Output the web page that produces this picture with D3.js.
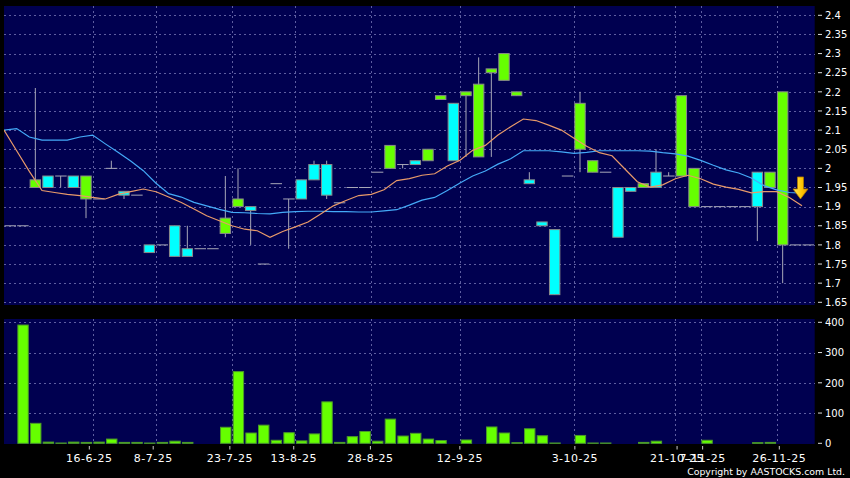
<!DOCTYPE html>
<html><head><meta charset="utf-8">
<script src="https://cdn.jsdelivr.net/npm/d3@7"></script>
<style>body{margin:0;background:#000;}svg{display:block;}</style>
</head><body>
<svg id="c" width="850" height="478"></svg>
<script>
// ---------- DATA ----------
const opens  = [1.85,1.85,1.97,1.95,1.98,1.95,1.98,1.92,2.00,1.93,1.93,1.78,1.80,1.77,1.77,1.79,1.79,1.87,1.92,1.89,1.75,1.96,1.92,1.92,1.97,1.93,1.91,1.95,1.95,1.99,2.06,2.01,2.01,2.05,2.19,2.02,2.20,2.22,2.26,2.30,2.20,1.96,1.85,1.67,1.98,2.17,2.02,1.99,1.82,1.94,1.96,1.95,1.98,2.19,2.00,1.90,1.90,1.90,1.90,1.90,1.99,2.20,1.80,1.80];
const closes = [1.85,1.85,1.95,1.98,1.98,1.98,1.92,1.92,2.00,1.94,1.93,1.80,1.80,1.85,1.79,1.79,1.79,1.83,1.90,1.90,1.75,1.96,1.92,1.97,2.01,2.01,1.91,1.95,1.95,1.99,2.00,2.01,2.02,2.02,2.18,2.17,2.19,2.03,2.25,2.23,2.19,1.97,1.86,1.84,1.98,2.05,1.99,1.99,1.95,1.95,1.95,1.99,1.98,1.98,1.90,1.90,1.90,1.90,1.90,1.99,1.95,1.80,1.80,1.80];
const highs  = [1.85,1.85,2.21,1.98,1.98,1.98,1.98,1.92,2.02,1.94,1.93,1.80,1.80,1.85,1.85,1.79,1.79,1.98,2.00,1.90,1.75,1.96,1.92,1.97,2.02,2.02,1.91,1.95,1.95,1.99,2.06,2.01,2.02,2.05,2.19,2.17,2.20,2.29,2.26,2.30,2.20,1.99,1.86,1.84,1.98,2.20,2.02,1.99,1.95,1.95,1.96,2.05,1.99,2.19,2.00,1.90,1.90,1.90,1.90,1.99,1.99,2.20,1.80,1.80];
const lows   = [1.85,1.85,1.95,1.95,1.95,1.95,1.87,1.92,2.00,1.92,1.93,1.78,1.80,1.77,1.77,1.79,1.79,1.82,1.90,1.80,1.75,1.96,1.79,1.92,1.97,1.92,1.91,1.95,1.95,1.99,2.00,2.00,2.01,2.02,2.18,2.02,2.03,2.03,2.03,2.23,2.19,1.96,1.85,1.67,1.98,1.99,1.99,1.99,1.82,1.94,1.95,1.95,1.98,1.98,1.90,1.90,1.90,1.90,1.90,1.81,1.95,1.70,1.80,1.80];
const volumes = [0,391,66,4,1,4,3,4,14,3,3,1,3,7,3,0,0,53,237,34,60,10,35,8,31,137,3,22,39,7,80,24,33,14,9,0,11,0,54,34,2,48,25,1,0,26,1,1,0,0,3,7,0,0,0,10,0,0,0,2,3,0,0,0];
const maBlue = [2.100,2.104,2.082,2.074,2.074,2.074,2.082,2.087,2.064,2.042,2.019,1.994,1.961,1.934,1.925,1.911,1.902,1.893,1.885,1.884,1.882,1.881,1.885,1.887,1.888,1.888,1.887,1.887,1.886,1.886,1.889,1.892,1.904,1.917,1.924,1.942,1.962,1.980,1.993,2.011,2.025,2.046,2.046,2.046,2.043,2.039,2.042,2.046,2.046,2.046,2.046,2.045,2.041,2.038,2.032,2.021,2.008,1.996,1.988,1.975,1.955,1.944,1.937,1.935];
const maOrange = [2.100,2.046,1.992,1.942,1.937,1.932,1.929,1.924,1.920,1.932,1.939,1.946,1.939,1.925,1.911,1.894,1.876,1.863,1.850,1.841,1.837,1.820,1.835,1.847,1.860,1.881,1.902,1.916,1.929,1.932,1.944,1.968,1.973,1.982,1.986,2.006,2.021,2.047,2.060,2.087,2.109,2.129,2.125,2.113,2.100,2.079,2.058,2.041,2.033,1.999,1.965,1.951,1.957,1.973,1.982,1.973,1.959,1.951,1.945,1.936,1.939,1.939,1.924,1.902];
const dateSlots  = [7,12,18,23,29,36,45,53,55,61];
const dateLabels = ["16-6-25","8-7-25","23-7-25","13-8-25","28-8-25","12-9-25","3-10-25","21-10-25","7-11-25","26-11-25"];
const priceTicks = [2.4,2.35,2.3,2.25,2.2,2.15,2.1,2.05,2,1.95,1.9,1.85,1.8,1.75,1.7,1.65];
const volTicks = [400,300,200,100,0];
const signalSlot = 63, signalPrice = 1.92;

// ---------- LAYOUT ----------
const N = opens.length;
const W = 850, H = 478;
const PL = 4, PR = 814.67, PT = 6, PB = 305, VT = 319, VB = 444;
const bg = "#000050", grid = "#5e5ea0";
const green = "#66ff00", cyan = "#00ffff";
const font = "DejaVu Sans, Verdana, sans-serif";

const x  = d3.scaleLinear().domain([0, N]).range([PL, PR]);
const xt = d3.scaleLinear().domain([7, 61]).range([89.3, 779.3]);
const y  = d3.scaleLinear().domain([1.65, 2.4]).range([302.3, 15.3]);
const yv = d3.scaleLinear().domain([0, 400]).range([443.3, 322.3]);

const svg = d3.select("#c");
svg.append("rect").attr("width", W).attr("height", H).attr("fill", "#000");
const defs = svg.append("defs");
defs.append("clipPath").attr("id","cp").append("rect").attr("x",PL).attr("y",PT).attr("width",PR-PL).attr("height",PB-PT);
defs.append("clipPath").attr("id","cv").append("rect").attr("x",PL).attr("y",VT).attr("width",PR-PL).attr("height",VB-VT);
const gr = defs.append("linearGradient").attr("id","ag").attr("x1",0).attr("x2",1).attr("y1",0).attr("y2",0);
gr.append("stop").attr("offset","0%").attr("stop-color","#ffe860");
gr.append("stop").attr("offset","60%").attr("stop-color","#ffc400");
gr.append("stop").attr("offset","100%").attr("stop-color","#e89a00");

svg.append("rect").attr("x",PL).attr("y",PT).attr("width",PR-PL).attr("height",PB-PT).attr("fill",bg);
svg.append("rect").attr("x",PL).attr("y",VT).attr("width",PR-PL).attr("height",VB-VT).attr("fill",bg);

// grid
const gg = svg.append("g").attr("stroke", grid).attr("stroke-width",1).attr("stroke-dasharray","2,3").attr("shape-rendering","crispEdges");
priceTicks.forEach(v => gg.append("line").attr("x1",PL).attr("x2",PR).attr("y1",Math.round(y(v))+0.5).attr("y2",Math.round(y(v))+0.5));
volTicks.filter(v=>v>0).forEach(v => gg.append("line").attr("x1",PL).attr("x2",PR).attr("y1",Math.round(yv(v))+0.5).attr("y2",Math.round(yv(v))+0.5));
dateSlots.forEach(k => {
  const xx = Math.round(x(k))+0.5;
  gg.append("line").attr("x1",xx).attr("x2",xx).attr("y1",PT).attr("y2",PB);
  gg.append("line").attr("x1",xx).attr("x2",xx).attr("y1",VT).attr("y2",VB);
});

// candles
const cg = svg.append("g").attr("clip-path","url(#cp)");
for (let i = 0; i < N; i++) {
  const o = opens[i], c = closes[i], h = highs[i], l = lows[i];
  const left = x(i);
  if (h > l) {
    cg.append("line").attr("x1",left+6).attr("x2",left+6).attr("y1",y(h)).attr("y2",y(l))
      .attr("stroke","#a8a8b8").attr("stroke-width",1);
  }
  if (o === c) {
    cg.append("line").attr("x1",left+0.5).attr("x2",left+12).attr("y1",y(o)).attr("y2",y(o))
      .attr("stroke","#a8a8b8").attr("stroke-width",1);
  } else {
    const top = y(Math.max(o,c)), bot = y(Math.min(o,c));
    cg.append("rect").attr("x",left+0.8).attr("y",top).attr("width",10.4).attr("height",bot-top)
      .attr("fill", c < o ? green : cyan).attr("stroke","#8a8a8a").attr("stroke-width",1);
  }
}

// moving averages
const line = d3.line().x((d,k)=>x(k)).y(d=>y(d));
cg.append("path").datum(maBlue).attr("d",line).attr("fill","none").attr("stroke","#44aaf8").attr("stroke-width",1.2);
cg.append("path").datum(maOrange).attr("d",line).attr("fill","none").attr("stroke","#e89a6a").attr("stroke-width",1.2);

// signal arrow
const ax = x(signalSlot) - 1.5, ay = y(signalPrice);
svg.append("path")
  .attr("d", `M${ax-3},${ay-22} L${ax+3},${ay-22} L${ax+3},${ay-10} L${ax+7.5},${ay-10} L${ax},${ay} L${ax-7.5},${ay-10} L${ax-3},${ay-10} Z`)
  .attr("fill","url(#ag)").attr("stroke","#b07800").attr("stroke-width",0.8);

// volume
const vg = svg.append("g").attr("clip-path","url(#cv)");
volumes.forEach((v,i) => {
  if (v <= 0) return;
  vg.append("rect").attr("x",x(i)+1.2).attr("y",yv(v)).attr("width",10.4).attr("height",yv(0)-yv(v))
    .attr("fill",green).attr("stroke","#4c9a28").attr("stroke-width",1);
});

// right axes
const ag = svg.append("g").attr("font-family",font).attr("font-size","10px").attr("fill","#fff");
priceTicks.forEach(v => {
  ag.append("line").attr("x1",818).attr("x2",822).attr("y1",y(v)).attr("y2",y(v)).attr("stroke","#ddd");
  ag.append("text").attr("x",825).attr("y",y(v)+3.7).text(String(v));
});
volTicks.forEach(v => {
  ag.append("line").attr("x1",818).attr("x2",822).attr("y1",yv(v)).attr("y2",yv(v)).attr("stroke","#ddd");
  ag.append("text").attr("x",825).attr("y",yv(v)+3.7).text(String(v));
});

// date axis
const dg = svg.append("g").attr("font-family",font).attr("font-size","11px").attr("fill","#fff").attr("letter-spacing","0.5px");
dateSlots.forEach((k,j) => {
  const xx = xt(k);
  dg.append("line").attr("x1",xx).attr("x2",xx).attr("y1",446).attr("y2",449.5).attr("stroke","#ccc");
  dg.append("text").attr("x",xx).attr("y",461.5).attr("text-anchor","middle").text(dateLabels[j]);
});

svg.append("text").attr("x",845).attr("y",474.5).attr("text-anchor","end")
  .attr("font-family",font).attr("font-size","9.4px").attr("fill","#fff")
  .text("Copyright by AASTOCKS.com Ltd.");
</script>
</body></html>
